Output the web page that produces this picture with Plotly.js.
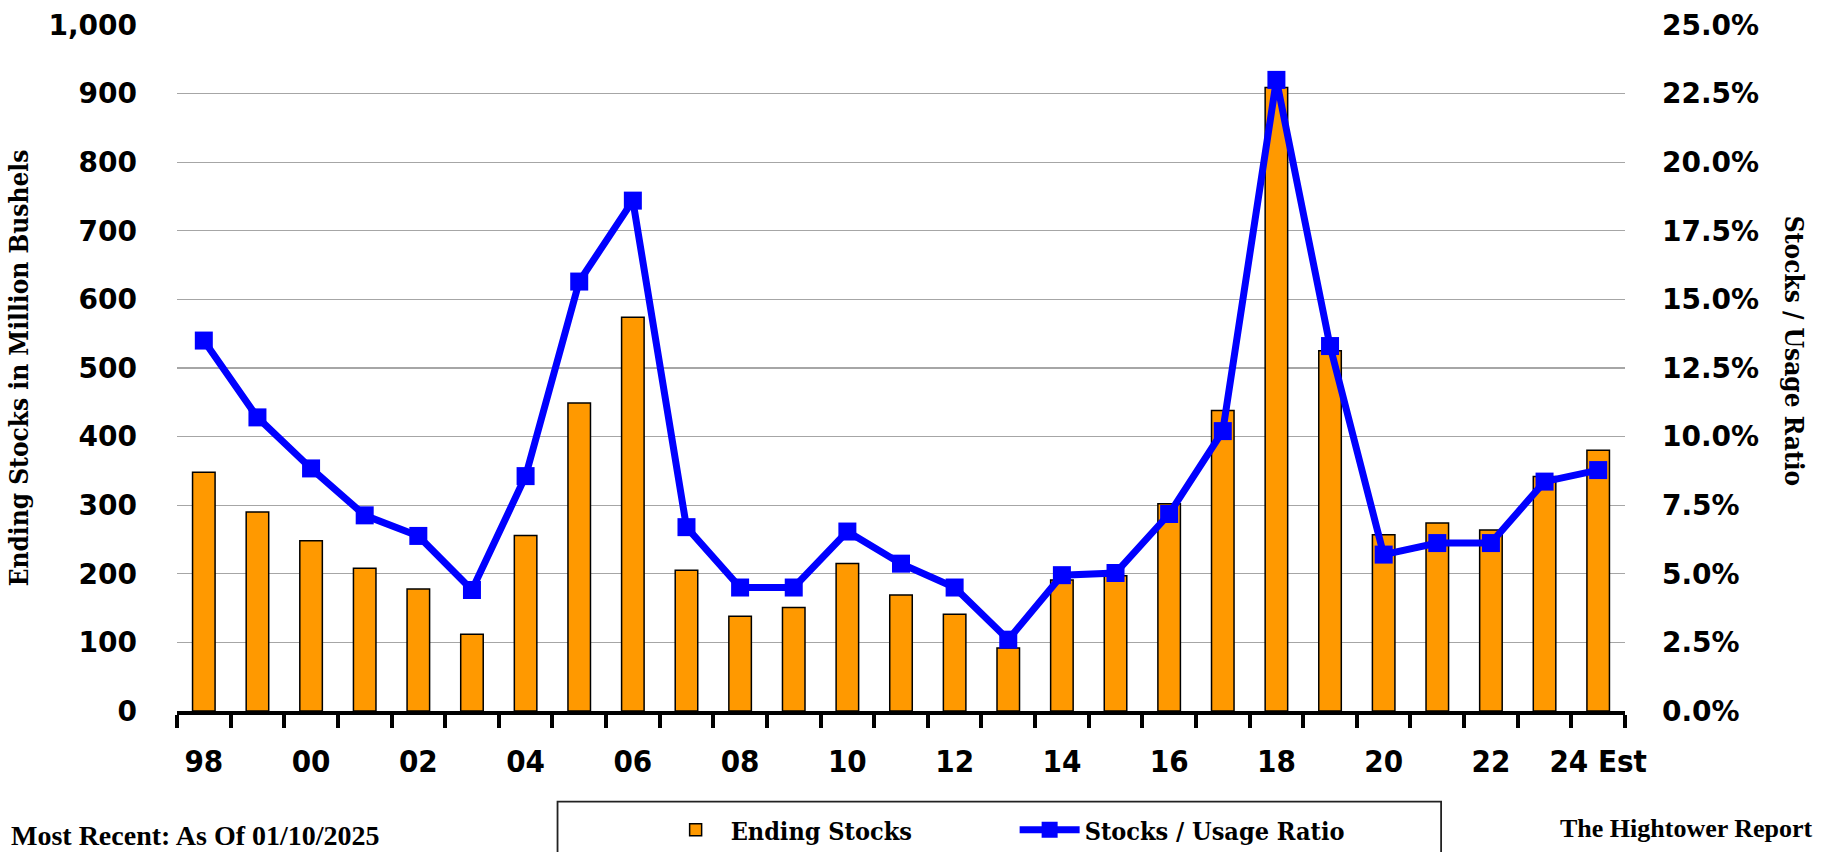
<!DOCTYPE html>
<html>
<head>
<meta charset="utf-8">
<script src="https://cdn.plot.ly/plotly-3.0.1.min.js"></script>
<style>
  html, body { margin: 0; padding: 0; background: #ffffff; }
  #chart { width: 1821px; height: 852px; }
</style>
</head>
<body>
<div id="chart"></div>
<script>
// Marketing years (crop year starting), shown as two-digit labels
const categories = ['98','99','00','01','02','03','04','05','06','07','08','09','10','11','12','13','14','15','16','17','18','19','20','21','22','23','24'];
const tickLabels = ['98','','00','','02','','04','','06','','08','','10','','12','','14','','16','','18','','20','','22','','24 Est'];

// Ending stocks, million bushels
const endingStocks = [348, 290, 248, 208, 178, 112, 256, 449, 574, 205, 138, 151, 215, 169, 141, 92, 191, 197, 302, 438, 909, 525, 257, 274, 264, 342, 380];

// Stocks / usage ratio, percent
const stocksUsage = [13.5, 10.7, 8.84, 7.13, 6.38, 4.41, 8.56, 15.65, 18.6, 6.7, 4.5, 4.5, 6.54, 5.37, 4.5, 2.6, 4.95, 5.03, 7.18, 10.2, 23.0, 13.3, 5.7, 6.12, 6.12, 8.36, 8.78];

const leftTicks = [0, 100, 200, 300, 400, 500, 600, 700, 800, 900, 1000];
const rightTicks = [0, 2.5, 5, 7.5, 10, 12.5, 15, 17.5, 20, 22.5, 25];
const rightTickLabels = ['0.0%', '2.5%', '5.0%', '7.5%', '10.0%', '12.5%', '15.0%', '17.5%', '20.0%', '22.5%', '25.0%'];

const serifCond = 'DejaVu Serif Condensed, DejaVu Serif, serif';

const traces = [
  {
    type: 'bar',
    name: 'Ending Stocks',
    x: categories,
    y: endingStocks,
    marker: { color: '#FF9900', line: { color: '#000000', width: 1.5 } },
    yaxis: 'y'
  },
  {
    type: 'scatter',
    mode: 'lines+markers',
    name: 'Stocks / Usage Ratio',
    x: categories,
    y: stocksUsage,
    yaxis: 'y2',
    line: { color: '#0000FF', width: 7 },
    marker: { symbol: 'square', size: 18, color: '#0000FF' }
  }
];

const layout = {
  width: 1821,
  height: 852,
  margin: { l: 177, r: 196, t: 25, b: 141, autoexpand: false },
  paper_bgcolor: '#ffffff',
  plot_bgcolor: '#ffffff',
  bargap: 0.58,
  hovermode: false,
  showlegend: true,
  legend: {
    orientation: 'h',
    x: 0.334,
    xanchor: 'left',
    y: -0.1735,
    yanchor: 'middle',
    itemwidth: 60,
    entrywidth: 279,
    entrywidthmode: 'pixels',
    borderwidth: 0,
    bgcolor: 'rgba(0,0,0,0)',
    font: { family: serifCond, size: 25, weight: 'bold', color: '#000000' }
  },
  xaxis: {
    type: 'category',
    tickmode: 'array',
    tickvals: categories,
    ticktext: tickLabels,
    tickson: 'boundaries',
    tickangle: 0,
    ticks: 'outside',
    ticklen: 13,
    tickwidth: 4,
    tickcolor: '#000000',
    showline: true,
    linecolor: '#000000',
    linewidth: 4,
    showgrid: false,
    zeroline: false,
    ticklabelstandoff: 20,
    tickfont: { family: 'DejaVu Sans Condensed, DejaVu Sans, sans-serif', size: 31, weight: 'bold', color: '#000000' },
    range: [-0.5, 26.5],
    fixedrange: true
  },
  yaxis: {
    range: [0, 1000],
    tickmode: 'array',
    tickvals: leftTicks,
    tickformat: ',',
    showgrid: true,
    gridcolor: '#a6a6a6',
    gridwidth: 1.3,
    zeroline: false,
    showline: false,
    ticks: '',
    ticklabelstandoff: 39,
    tickfont: { family: 'DejaVu Sans, sans-serif', size: 28, weight: 'bold', color: '#000000' },
    automargin: true,
    title: {
      text: 'Ending Stocks in Million Bushels',
      standoff: 12,
      font: { family: serifCond, size: 26, weight: 'bold', color: '#000000' }
    },
    fixedrange: true
  },
  yaxis2: {
    overlaying: 'y',
    side: 'right',
    range: [0, 25],
    tickmode: 'array',
    tickvals: rightTicks,
    ticktext: rightTickLabels,
    showgrid: false,
    zeroline: false,
    showline: false,
    ticks: '',
    ticklabelstandoff: 36,
    tickfont: { family: 'DejaVu Sans, sans-serif', size: 28, weight: 'bold', color: '#000000' },
    fixedrange: true
  },
  shapes: [
    {
      type: 'rect', xref: 'paper', yref: 'paper',
      x0: 0.2628, x1: 0.873, y0: -0.132, y1: -0.26,
      line: { color: '#222222', width: 1.8 },
      fillcolor: 'rgba(0,0,0,0)',
      layer: 'below'
    }
  ],
  annotations: [
    {
      text: 'Stocks / Usage Ratio',
      xref: 'paper', yref: 'paper',
      x: 1.1167, y: 0.525,
      xanchor: 'center', yanchor: 'middle',
      textangle: 90,
      showarrow: false,
      font: { family: serifCond, size: 26, weight: 'bold', color: '#000000' }
    },
    {
      text: 'Most Recent: As Of 01/10/2025',
      xref: 'paper', yref: 'paper',
      x: 0.1416, y: -0.1808,
      xanchor: 'right', yanchor: 'middle',
      showarrow: false,
      font: { family: 'Liberation Serif, serif', size: 28, weight: 'bold', color: '#000000' }
    },
    {
      text: 'The Hightower Report',
      xref: 'paper', yref: 'paper',
      x: 1.1312, y: -0.1706,
      xanchor: 'right', yanchor: 'middle',
      showarrow: false,
      font: { family: 'Liberation Serif, serif', size: 26, weight: 'bold', color: '#000000' }
    }
  ]
};

Plotly.newPlot('chart', traces, layout, { displayModeBar: false, staticPlot: true });
</script>
</body>
</html>
